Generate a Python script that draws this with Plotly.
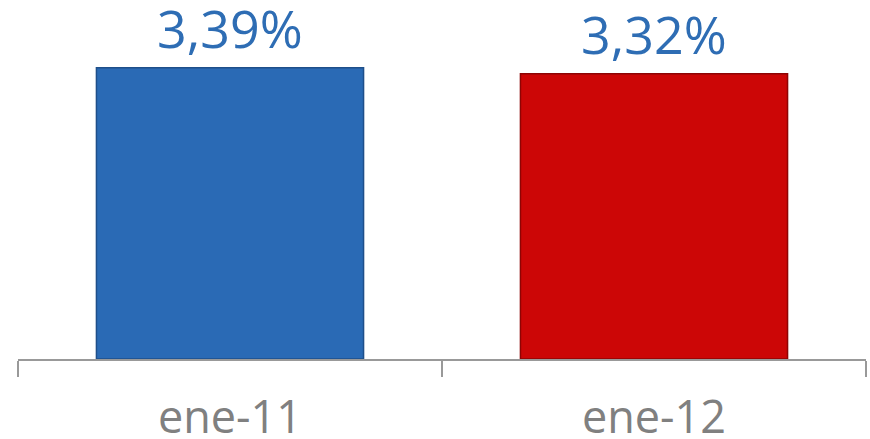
import plotly.graph_objects as go

categories = ["ene-11", "ene-12"]
values = [3.39, 3.32]
value_labels = ["3,39%", "3,32%"]
bar_colors = ["#2A6AB5", "#CC0606"]
line_colors = ["#1E4F8A", "#8E0404"]

fig = go.Figure()
fig.add_trace(go.Bar(
    x=categories, y=values,
    marker=dict(color=bar_colors, line=dict(color=line_colors, width=1.5)),
    width=0.63, hoverinfo="skip",
))
for c, v, t in zip(categories, values, value_labels):
    fig.add_annotation(x=c, y=v, text=t, showarrow=False, yanchor="bottom",
                       yshift=3, font=dict(family="Open Sans", size=52, color="#2E6DB4"))

fig.update_layout(
    width=870, height=439,
    margin=dict(l=18, r=4, t=0, b=80, autoexpand=False),
    paper_bgcolor="white", plot_bgcolor="white",
    showlegend=False,
    xaxis=dict(showline=True, linecolor="#999999", linewidth=1.5,
               ticks="outside", tickson="boundaries", ticklen=16,
               tickcolor="#999999", tickwidth=1.5, automargin=False,
               tickfont=dict(family="Open Sans", size=45, color="#808080"),
               ticklabelstandoff=18, showgrid=False),
    yaxis=dict(range=[0, 4.18], visible=False, showgrid=False),
)
fig.write_html("out.html")
